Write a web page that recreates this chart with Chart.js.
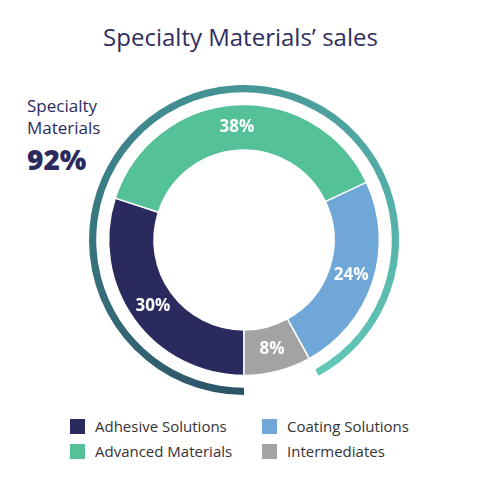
<!DOCTYPE html>
<html><head><meta charset="utf-8">
<script src="https://cdn.jsdelivr.net/npm/chart.js@4"></script>
<style>
body{margin:0;width:481px;height:481px;background:#fff;font-family:"Open Sans",sans-serif;position:relative;overflow:hidden}
#title{position:absolute;top:20px;left:0;width:481px;text-align:center;font-size:24px;color:#2f2e5e}
#side{position:absolute;left:27px;top:95px;color:#2b2a5f;font-size:17px;line-height:22px}
#side b{font-size:28px;line-height:40px;font-weight:800}
#wrap{position:absolute;left:89px;top:85px;width:310px;height:310px}
.lg{position:absolute;font-size:15px;color:#333;display:flex;align-items:center}
.lg i{display:inline-block;width:15px;height:15px;margin-right:10px}
</style></head><body>
<div id="title">Specialty Materials’ sales</div>
<div id="side">Specialty<br>Materials<br><b>92%</b></div>
<div id="wrap"><canvas id="c"></canvas></div>
<div id="legend"></div>
<script>
const categories=["Adhesive Solutions","Advanced Materials","Coating Solutions","Intermediates"];
const values=[30,38,24,8];
const colors=["#2b2a5f","#54c198","#6fa7d8","#a3a3a3"];
const ringValues=[92,8];
const legendPos=[[0,70,416],[2,262,416],[1,70,441],[3,262,441]];
const lg=document.getElementById('legend');
legendPos.forEach(([i,x,y])=>{const d=document.createElement('div');d.className='lg';d.style.left=x+'px';d.style.top=y+'px';d.innerHTML='<i style="background:'+colors[i]+'"></i>'+categories[i];lg.appendChild(d);});
const labelPlugin={id:'lbl',afterDatasetsDraw(ch){const ctx=ch.ctx;const meta=ch.getDatasetMeta(2);ctx.save();ctx.fillStyle='#fff';ctx.font='bold 17px "Open Sans"';ctx.textAlign='center';ctx.textBaseline='middle';meta.data.forEach((a,i)=>{const p=a.tooltipPosition();ctx.fillText(values[i]+'%',p.x,p.y);});ctx.restore();}};
new Chart(document.getElementById('c'),{type:'doughnut',
data:{labels:categories,datasets:[
{data:ringValues,weight:7,borderWidth:0,backgroundColor:(c)=>{if(c.dataIndex===1)return 'rgba(0,0,0,0)';const ch=c.chart;const a=ch.chartArea;if(!a)return '#4aa';const g=ch.ctx.createConicGradient(Math.PI/2,(a.left+a.right)/2,(a.top+a.bottom)/2);g.addColorStop(0,'#2c5266');g.addColorStop(0.4,'#3f8a8e');g.addColorStop(0.92,'#63c9b8');g.addColorStop(1,'#63c9b8');return g;}},
{data:[100],weight:12,borderWidth:0,backgroundColor:'rgba(0,0,0,0)'},
{data:values,weight:44,backgroundColor:colors,borderColor:'#fff',borderWidth:1.5}
]},
options:{responsive:true,maintainAspectRatio:false,animation:false,rotation:180,cutout:90,layout:{padding:0},
plugins:{legend:{display:false},tooltip:{enabled:false}}},
plugins:[labelPlugin]});
</script></body></html>
